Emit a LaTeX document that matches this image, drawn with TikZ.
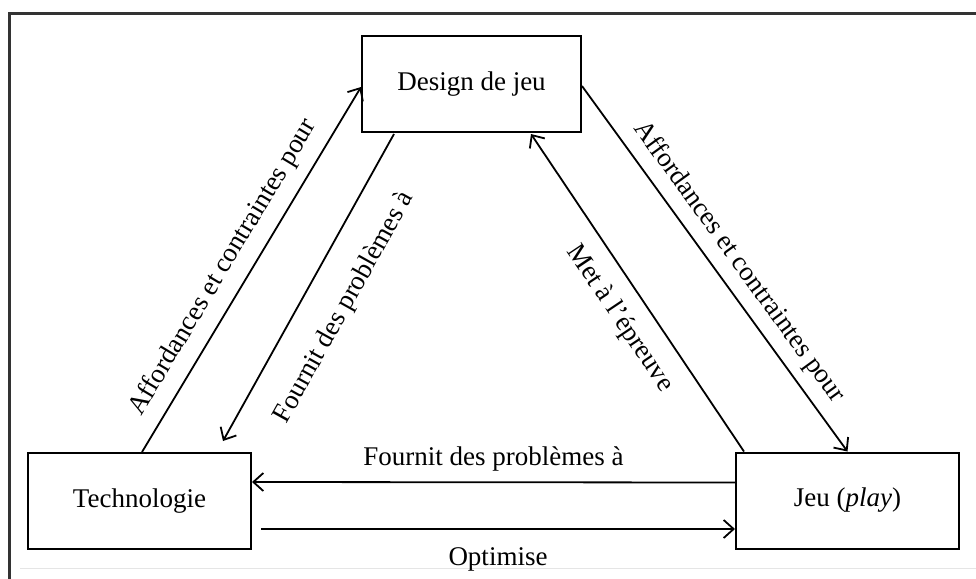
\documentclass[tikz,border=0pt]{standalone}
\usepackage{fontspec}
\setmainfont{Liberation Serif}
\usetikzlibrary{calc,arrows.meta}

\tikzset{
	boite/.style={draw, line width=1pt, minimum width=111.5pt, minimum height=48pt, inner sep=0pt, font=\fontsize{13.5}{16}\selectfont},
	fleche/.style={line width=0.9pt, -{Straight Barb[length=5pt,width=9pt]}},
	etiq/.style={font=\fontsize{13.5}{16}\selectfont, inner sep=2pt}
}

\begin{document}
\begin{tikzpicture}[x=0.5pt, y=-0.5pt]
			%%%%% START %%%%%
			
			\useasboundingbox (0,0) rectangle (976,579);
			
			\draw[line width=1.5pt, color=black!80] (8,13) -- (976,13);
			\draw[line width=1.5pt, color=black!80] (9,13) -- (9,579);
			\draw[line width=0.5pt, color=black!10] (20,568) -- (976,568);
			
			\node[boite, minimum width=109.5pt] (design) at (471.5,84) {Design de jeu};
			\node[boite] (techno) at (139.5,501) {Technologie};
			\node[boite] (jeu) at (847.5,500.5) {Jeu (\textit{play})};
			
			\draw[fleche] ($(techno.north west)+(115,0)$) -- node[etiq, sloped, pos=0.47, above=4pt] {Affordances et contraintes pour} ($(design.north west)+(0,52)$);
			\draw[fleche] ($(design.south west)+(33,1)$) -- node[etiq, sloped, below=12pt] {Fournit des problèmes à} ($(techno.north east)+(-29,-11)$);
			
			\draw[fleche] ($(jeu.north west)+(9,0)$) -- node[etiq, sloped, pos=0.47, below=6pt] {Met à l'épreuve} ($(design.south west)+(170,1)$);
			\draw[fleche] ($(design.north east)+(0,51)$) -- node[etiq, sloped, pos=0.52, above=3pt] {Affordances et contraintes pour} (jeu.north);
			
			\draw[fleche] ($(jeu.west)+(0,-18)$) -- node[etiq, above=3pt] {Fournit des problèmes à} ($(techno.east)+(0,-19)$);
			\draw[fleche] ($(techno.east)+(9,28)$) -- node[etiq, below=7pt] {Optimise} ($(jeu.west)+(0,28.5)$);
			
			%%%%% END %%%%%
\end{tikzpicture}
\end{document}
